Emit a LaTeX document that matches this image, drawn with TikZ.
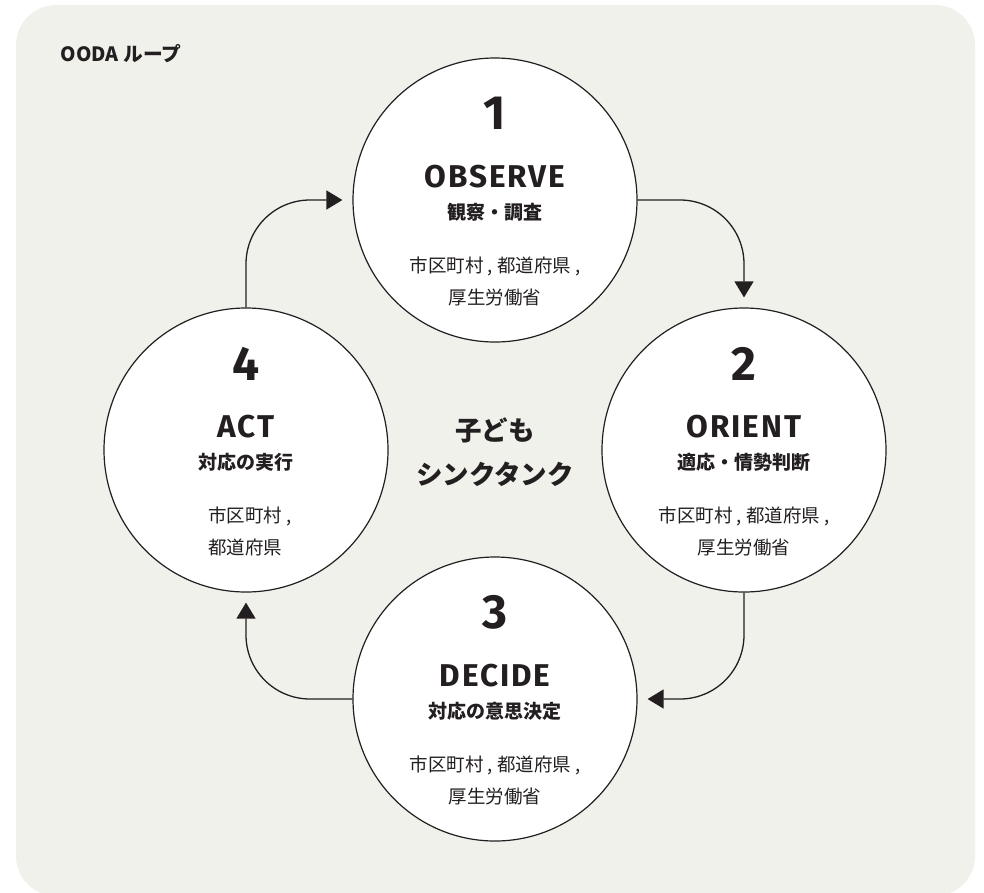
\documentclass[tikz,border=0pt]{standalone}
\usepackage{fontspec}
\usetikzlibrary{arrows.meta,calc}

\newfontfamily\jpfont{Noto Sans CJK JP}
\newfontfamily\dinfont{Fira Sans}[LetterSpace=6]

\definecolor{ink}{HTML}{231F20}
\definecolor{paper}{HTML}{F1F1EC}

\tikzset{
  stage/.style={circle, draw=ink, line width=1.2pt, fill=white,
    minimum size=284pt, inner sep=0pt},
  numlabel/.style={text=ink, inner sep=0pt,
    font=\dinfont\bfseries\fontsize{48}{48}\selectfont},
  titlelabel/.style={text=ink, inner sep=0pt,
    font=\dinfont\bfseries\fontsize{31.5}{31.5}\selectfont},
  sublabel/.style={text=ink, inner sep=0pt,
    font=\jpfont\bfseries\fontsize{19}{19}\selectfont},
  placelabel/.style={text=ink, inner sep=0pt, align=center,
    font=\jpfont\fontsize{18.5}{32}\selectfont},
  centerlabel/.style={text=ink, inner sep=0pt,
    font=\jpfont\bfseries\fontsize{26.5}{26.5}\selectfont},
  flow/.style={draw=ink, line width=1.3pt, rounded corners=64pt,
    -{Triangle[length=16pt,width=19pt]}},
}

% text block of one stage: circle, number, title, subtitle, places, extra place options
\newcommand\stagetext[6]{%
  \node[numlabel] (#1-num) at ($(#1)+(0,-86.5)$) {#2};
  \node[titlelabel] (#1-title) at ($(#1)+(0,-23)$) {#3};
  \node[sublabel] (#1-sub) at ($(#1)+(0,12)$) {#4};
  \node[placelabel,#6] (#1-places) at ($(#1)+(0,81)$) {#5};
}

\begin{document}
\begin{tikzpicture}[x=1pt, y=-1pt]
  \useasboundingbox (0,0) rectangle (984,892);
  \fill[paper, rounded corners=40pt] (16,5) rectangle (975,896);

  \node[anchor=base west, text=ink, inner sep=0pt,
    font=\jpfont\bfseries\fontsize{19.7}{19.7}\selectfont] (heading) at (60.5,61.5) {OODA ループ};

  % the four stages of the loop
  \node[stage] (c1) at (495,200) {};
  \node[stage] (c2) at (744,450) {};
  \node[stage] (c3) at (495,699) {};
  \node[stage] (c4) at (246,450) {};

  % connectors running clockwise
  \draw[flow] (c1.east) -| ([yshift=10pt]c2.north);
  \draw[flow] (c2.south) |- ([xshift=10pt]c3.east);
  \draw[flow] (c3.west) -| ([yshift=-10pt]c4.south);
  \draw[flow] (c4.north) |- ([xshift=-10pt]c1.west);

  \stagetext{c1}{1}{OBSERVE}{観察・調査}{市区町村 , 都道府県 ,\\厚生労働省}{}
  \stagetext{c2}{2}{ORIENT}{適応・情勢判断}{市区町村 , 都道府県 ,\\厚生労働省}{}
  \stagetext{c3}{3}{DECIDE}{対応の意思決定}{市区町村 , 都道府県 ,\\厚生労働省}{}
  \stagetext{c4}{4}{ACT}{対応の実行}{市区町村 ,\\都道府県}{align=left, xshift=4pt}

  \node[centerlabel] (hub1) at (495,430) {子ども};
  \node[centerlabel] (hub2) at (495,474) {シンクタンク};
\end{tikzpicture}
\end{document}
